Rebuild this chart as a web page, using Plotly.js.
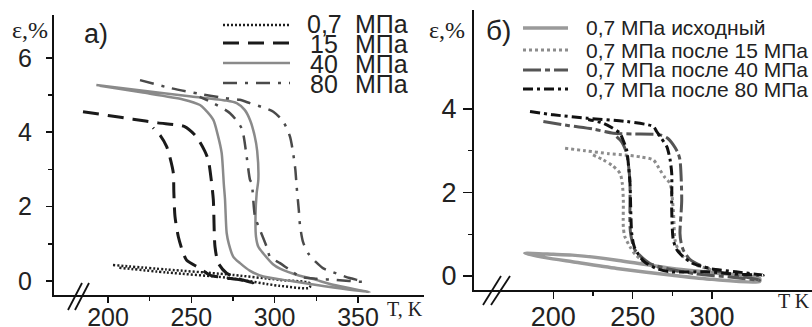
<!DOCTYPE html>
<html><head><meta charset="utf-8">
<script src="https://cdn.plot.ly/plotly-3.0.1.min.js"></script>
<style>html,body{margin:0;padding:0;background:#fff}#c{width:812px;height:327px}</style>
</head><body><div id="c"></div>
<script>
// ---------- Panel a) data ----------
const a07_T = [203, 235, 271, 303, 321, 321, 303, 271, 235, 206];
const a07_E = [0.43, 0.31, 0.18, 0.03, -0.06, -0.18, -0.13, 0.09, 0.23, 0.36];

const a15_T = [185, 200, 215, 230, 246, 253, 258, 260.2, 262, 263.2, 264.2, 266.2, 271.2, 279.2, 287,
               279.2, 261.2, 255.2, 247.2, 245.2, 242.2, 240.2, 239.5, 239.2, 237, 235.2, 231.5, 227];
const a15_E = [4.55, 4.45, 4.35, 4.25, 4.15, 3.88, 3.5, 3.25, 2.7, 2.18, 0.92, 0.48, 0.21, 0.05, -0.05,
               0.03, 0.16, 0.34, 0.56, 0.74, 1.19, 1.73, 2.4, 2.9, 3.35, 3.61, 3.9, 4.12];

const a40_T = [193, 220, 250, 271, 277.2, 282, 285.2, 288, 289.5, 290.2, 289.2, 288.5, 288.8, 290.2, 293.2, 299, 303.2, 315, 323.2, 335, 357,
               330, 310, 293.2, 285, 279.2, 275.2, 272.5, 271.2, 270.2, 269.5, 268.2, 266, 263.2, 258, 255.2, 245, 220, 195];
const a40_E = [5.27, 5.12, 4.96, 4.85, 4.78, 4.6, 4.33, 3.9, 3.5, 2.72, 2.36, 1.73, 1.19, 0.92, 0.74, 0.45, 0.33, 0.14, 0.05, -0.1, -0.3,
               -0.14, 0.0, 0.12, 0.28, 0.48, 0.65, 1.0, 1.29, 2.2, 2.6, 3.44, 3.9, 4.33, 4.62, 4.73, 4.88, 5.07, 5.25];

const a80_T = [219.2, 238, 255, 270, 279, 285.2, 292, 299.2, 305.2, 309.2, 311.2, 312.4, 313.2, 314.5, 315.2, 317, 320.2, 325, 329.2, 337.2, 345, 353.2,
               337, 325, 315.2, 309, 303.2, 297.2, 295.2, 291.2, 288.2, 286.2, 285.2, 283.2, 280.2, 273.2, 263.2, 255];
const a80_E = [5.4, 5.18, 5.03, 4.92, 4.87, 4.78, 4.68, 4.55, 4.28, 3.88, 3.4, 3.0, 2.53, 1.9, 1.5, 1.05, 0.74, 0.5, 0.34, 0.2, 0.08, -0.02,
               0.03, 0.06, 0.12, 0.3, 0.48, 0.65, 0.92, 1.37, 1.73, 2.63, 2.72, 3.34, 4.1, 4.51, 4.78, 4.95];

// ---------- Panel б) data ----------
const b0_T = [182, 200, 212, 240, 275, 300, 330, 330, 300, 275, 240, 212, 195, 182];
const b0_E = [0.54, 0.52, 0.5, 0.38, 0.18, 0.08, -0.06, -0.13, -0.08, 0.02, 0.18, 0.34, 0.44, 0.54];

const b15_T = [207.4, 220, 235, 245, 255, 263, 267.2, 270.5, 273.5, 275.6, 276.7, 278.5, 281.9, 290, 296.7, 305,
               290, 271.5, 258.9, 252, 248.3, 245, 244.1, 244.1, 243.5, 242, 237, 231.5, 225];
const b15_E = [3.06, 3.0, 2.93, 2.9, 2.85, 2.78, 2.54, 2.35, 2.22, 1.58, 0.86, 0.65, 0.46, 0.26, 0.18, 0.08,
               0.1, 0.14, 0.3, 0.5, 0.7, 0.95, 1.18, 1.82, 2.2, 2.46, 2.65, 2.78, 2.9];

const b40_T = [193.7, 210, 225, 237.8, 250, 267.2, 272, 275.6, 278.5, 279.8, 280.9, 279.8, 280.5, 281.9, 286, 292.4, 305, 330,
               310, 290, 271.5, 260.9, 251.5, 249, 248.3, 248.3, 247.5, 246.2, 244, 242, 238];
const b40_E = [3.7, 3.6, 3.52, 3.42, 3.4, 3.38, 3.3, 3.14, 2.95, 2.78, 1.82, 1.02, 0.8, 0.62, 0.4, 0.26, 0.1, -0.1,
               -0.02, 0.05, 0.18, 0.3, 0.62, 0.95, 1.18, 2.22, 2.6, 2.94, 3.15, 3.26, 3.4];

const b80_T = [185.3, 200, 221, 246.2, 263, 265.1, 268, 271.5, 273.5, 274.6, 274.6, 275.6, 278, 281.9, 288, 294.5, 300, 315, 332.3,
               310, 296.7, 273.5, 265.1, 258, 254.6, 251, 249.4, 248.3, 247.5, 246.2, 244, 242, 237, 231.5, 222];
const b80_E = [3.94, 3.86, 3.78, 3.7, 3.58, 3.46, 3.3, 3.1, 2.8, 2.46, 1.58, 0.86, 0.62, 0.46, 0.3, 0.22, 0.17, 0.1, 0.02,
               0.06, 0.1, 0.1, 0.18, 0.32, 0.46, 0.7, 1.02, 2.22, 2.6, 3.02, 3.25, 3.42, 3.55, 3.66, 3.75];

// ---------- Labels ----------
const legendA = [["0,7", "МПа"], ["15", "МПа"], ["40", "МПа"], ["80", "МПа"]];
const legendB = ["0,7 МПа исходный", "0,7 МПа после 15 МПа", "0,7 МПа после 40 МПа", "0,7 МПа после 80 МПа"];
const ticksAx = [200, 250, 300, 350], ticksAy = [0, 2, 4, 6];
const ticksBx = [200, 250, 300], ticksBy = [0, 2, 4];

// ---------- Styles ----------
const stA = [
  {color: '#1e1e1e', width: 2.5, dash: '2px,2px'},
  {color: '#1a1a1a', width: 3, dash: '16px,9px'},
  {color: '#8a8a8a', width: 2.5, dash: 'solid'},
  {color: '#4a4a4a', width: 2.5, dash: '14px,8px,3px,8px'}
];
const stB = [
  {color: '#9a9a9a', width: 3.5, dash: 'solid'},
  {color: '#8c8c8c', width: 3, dash: '3px,3px'},
  {color: '#555555', width: 3, dash: '18px,4px,5px,4px'},
  {color: '#111111', width: 3, dash: '10px,4px,3px,4px'}
];

const W = 812, H = 327;
const px = x => x / W, py = y => 1 - y / H;

function tr(T, E, st, xa, ya) {
  return {x: T, y: E, mode: 'lines', xaxis: xa, yaxis: ya, showlegend: false, hoverinfo: 'skip',
          line: {color: st.color, width: st.width, dash: st.dash, shape: 'spline', smoothing: 0.7}};
}
const data = [
  tr(a07_T, a07_E, stA[0], 'x', 'y'),
  tr(a15_T, a15_E, stA[1], 'x', 'y'),
  tr(a40_T, a40_E, stA[2], 'x', 'y'),
  tr(a80_T, a80_E, stA[3], 'x', 'y'),
  tr(b0_T, b0_E, stB[0], 'x2', 'y2'),
  tr(b15_T, b15_E, stB[1], 'x2', 'y2'),
  tr(b40_T, b40_E, stB[2], 'x2', 'y2'),
  tr(b80_T, b80_E, stB[3], 'x2', 'y2')
];

const tickFontA = {family: 'Liberation Sans, Arial, sans-serif', size: 25, color: '#222'};
const tickFontB = {family: 'Liberation Sans, Arial, sans-serif', size: 27, color: '#222'};
function axis(o) {
  return Object.assign({showgrid: false, zeroline: false, showline: true, linecolor: '#111', linewidth: 2,
    ticks: 'outside', tickcolor: '#111', tickwidth: 1.5, automargin: false, fixedrange: true}, o);
}

const layout = {
  width: W, height: H, margin: {l: 0, r: 0, t: 0, b: 0}, paper_bgcolor: '#fff', plot_bgcolor: 'rgba(0,0,0,0)',
  showlegend: false,
  xaxis: axis({domain: [px(54), px(424)], range: [167.6, 389.6], tickmode: 'array', tickvals: ticksAx, ticklen: 6,
    tickfont: tickFontA, anchor: 'y', ticklabelstandoff: -7,
    minor: {tickmode: 'array', tickvals: [225, 275, 325], ticklen: 4, tickcolor: '#111', showgrid: false}}),
  yaxis: axis({domain: [py(295), py(15)], range: [-0.376, 7.15], tickmode: 'array', tickvals: ticksAy, ticklen: 6,
    tickfont: tickFontA, anchor: 'x', ticklabelstandoff: 9, minor: {tickmode: 'array', tickvals: [1, 3, 5], ticklen: 4, tickcolor: '#111', showgrid: false}}),
  xaxis2: axis({domain: [px(474), 1], range: [150, 363], tickmode: 'array', tickvals: ticksBx, ticklen: 7,
    tickfont: tickFontB, anchor: 'y2', ticklabelstandoff: -5,
    minor: {tickmode: 'array', tickvals: [225, 275], ticklen: 4, tickcolor: '#111', showgrid: false}}),
  yaxis2: axis({domain: [py(290), py(10)], range: [-0.335, 6.37], tickmode: 'array', tickvals: ticksBy, ticklen: 9,
    tickfont: tickFontB, anchor: 'x2', ticklabelstandoff: 1, minor: {tickmode: 'array', tickvals: [1, 3], ticklen: 4, tickcolor: '#111', showgrid: false}}),
  shapes: [],
  annotations: []
};

// legend a)
const rowsA = [25, 43, 63, 83], rowsAtext = [24, 44, 64, 84];
stA.forEach((s, i) => {
  layout.shapes.push({type: 'line', xref: 'paper', yref: 'paper', x0: px(223), x1: px(290), y0: py(rowsA[i]), y1: py(rowsA[i]),
    line: {color: s.color, width: s.width, dash: s.dash}});
  layout.annotations.push({xref: 'paper', yref: 'paper', x: px(i === 0 ? 306 : 309), y: py(rowsAtext[i]), xanchor: 'left', yanchor: 'middle',
    text: legendA[i][0], showarrow: false, borderpad: 0, font: {family: 'Liberation Sans, Arial, sans-serif', size: 25, color: '#222'}});
  layout.annotations.push({xref: 'paper', yref: 'paper', x: px(354), y: py(rowsAtext[i]), xanchor: 'left', yanchor: 'middle',
    text: legendA[i][1], showarrow: false, borderpad: 0, font: {family: 'Liberation Sans, Arial, sans-serif', size: 25, color: '#222'}});
});
// legend б)
const rowsB = [28, 50, 70, 89];
stB.forEach((s, i) => {
  layout.shapes.push({type: 'line', xref: 'paper', yref: 'paper', x0: px(523), x1: px(568), y0: py(rowsB[i]), y1: py(rowsB[i]),
    line: {color: s.color, width: s.width, dash: s.dash}});
  layout.annotations.push({xref: 'paper', yref: 'paper', x: px(585), y: py(rowsB[i]), xanchor: 'left', yanchor: 'middle',
    text: legendB[i], showarrow: false, borderpad: 0, font: {family: 'Liberation Sans, Arial, sans-serif', size: 21, color: '#222'}});
});

// axis break marks
[[68, 310, 82, 283], [75, 310, 89, 283], [483, 305, 501, 276], [491, 305, 510, 276]].forEach(b => {
  layout.shapes.push({type: 'line', xref: 'paper', yref: 'paper', x0: px(b[0]), y0: py(b[1]), x1: px(b[2]), y1: py(b[3]),
    line: {color: '#111', width: 1.8}});
});

// titles / panel labels
const serif = 'Liberation Serif, Times New Roman, serif';
const sans = 'Liberation Sans, Arial, sans-serif';
[
  {x: 30, y: 30, t: 'ε,%', f: serif, s: 24},
  {x: 96, y: 34, t: 'a)', f: sans, s: 27},
  {x: 405, y: 309, t: 'T, K', f: serif, s: 20},
  {x: 447, y: 30, t: 'ε,%', f: serif, s: 24},
  {x: 498, y: 30, t: 'б)', f: sans, s: 28},
  {x: 794, y: 301, t: 'T K', f: serif, s: 20}
].forEach(a => layout.annotations.push({xref: 'paper', yref: 'paper', x: px(a.x), y: py(a.y), xanchor: 'center', yanchor: 'middle',
  text: a.t, showarrow: false, font: {family: a.f, size: a.s, color: '#222'}}));

Plotly.newPlot('c', data, layout, {staticPlot: true, displayModeBar: false});
</script></body></html>
